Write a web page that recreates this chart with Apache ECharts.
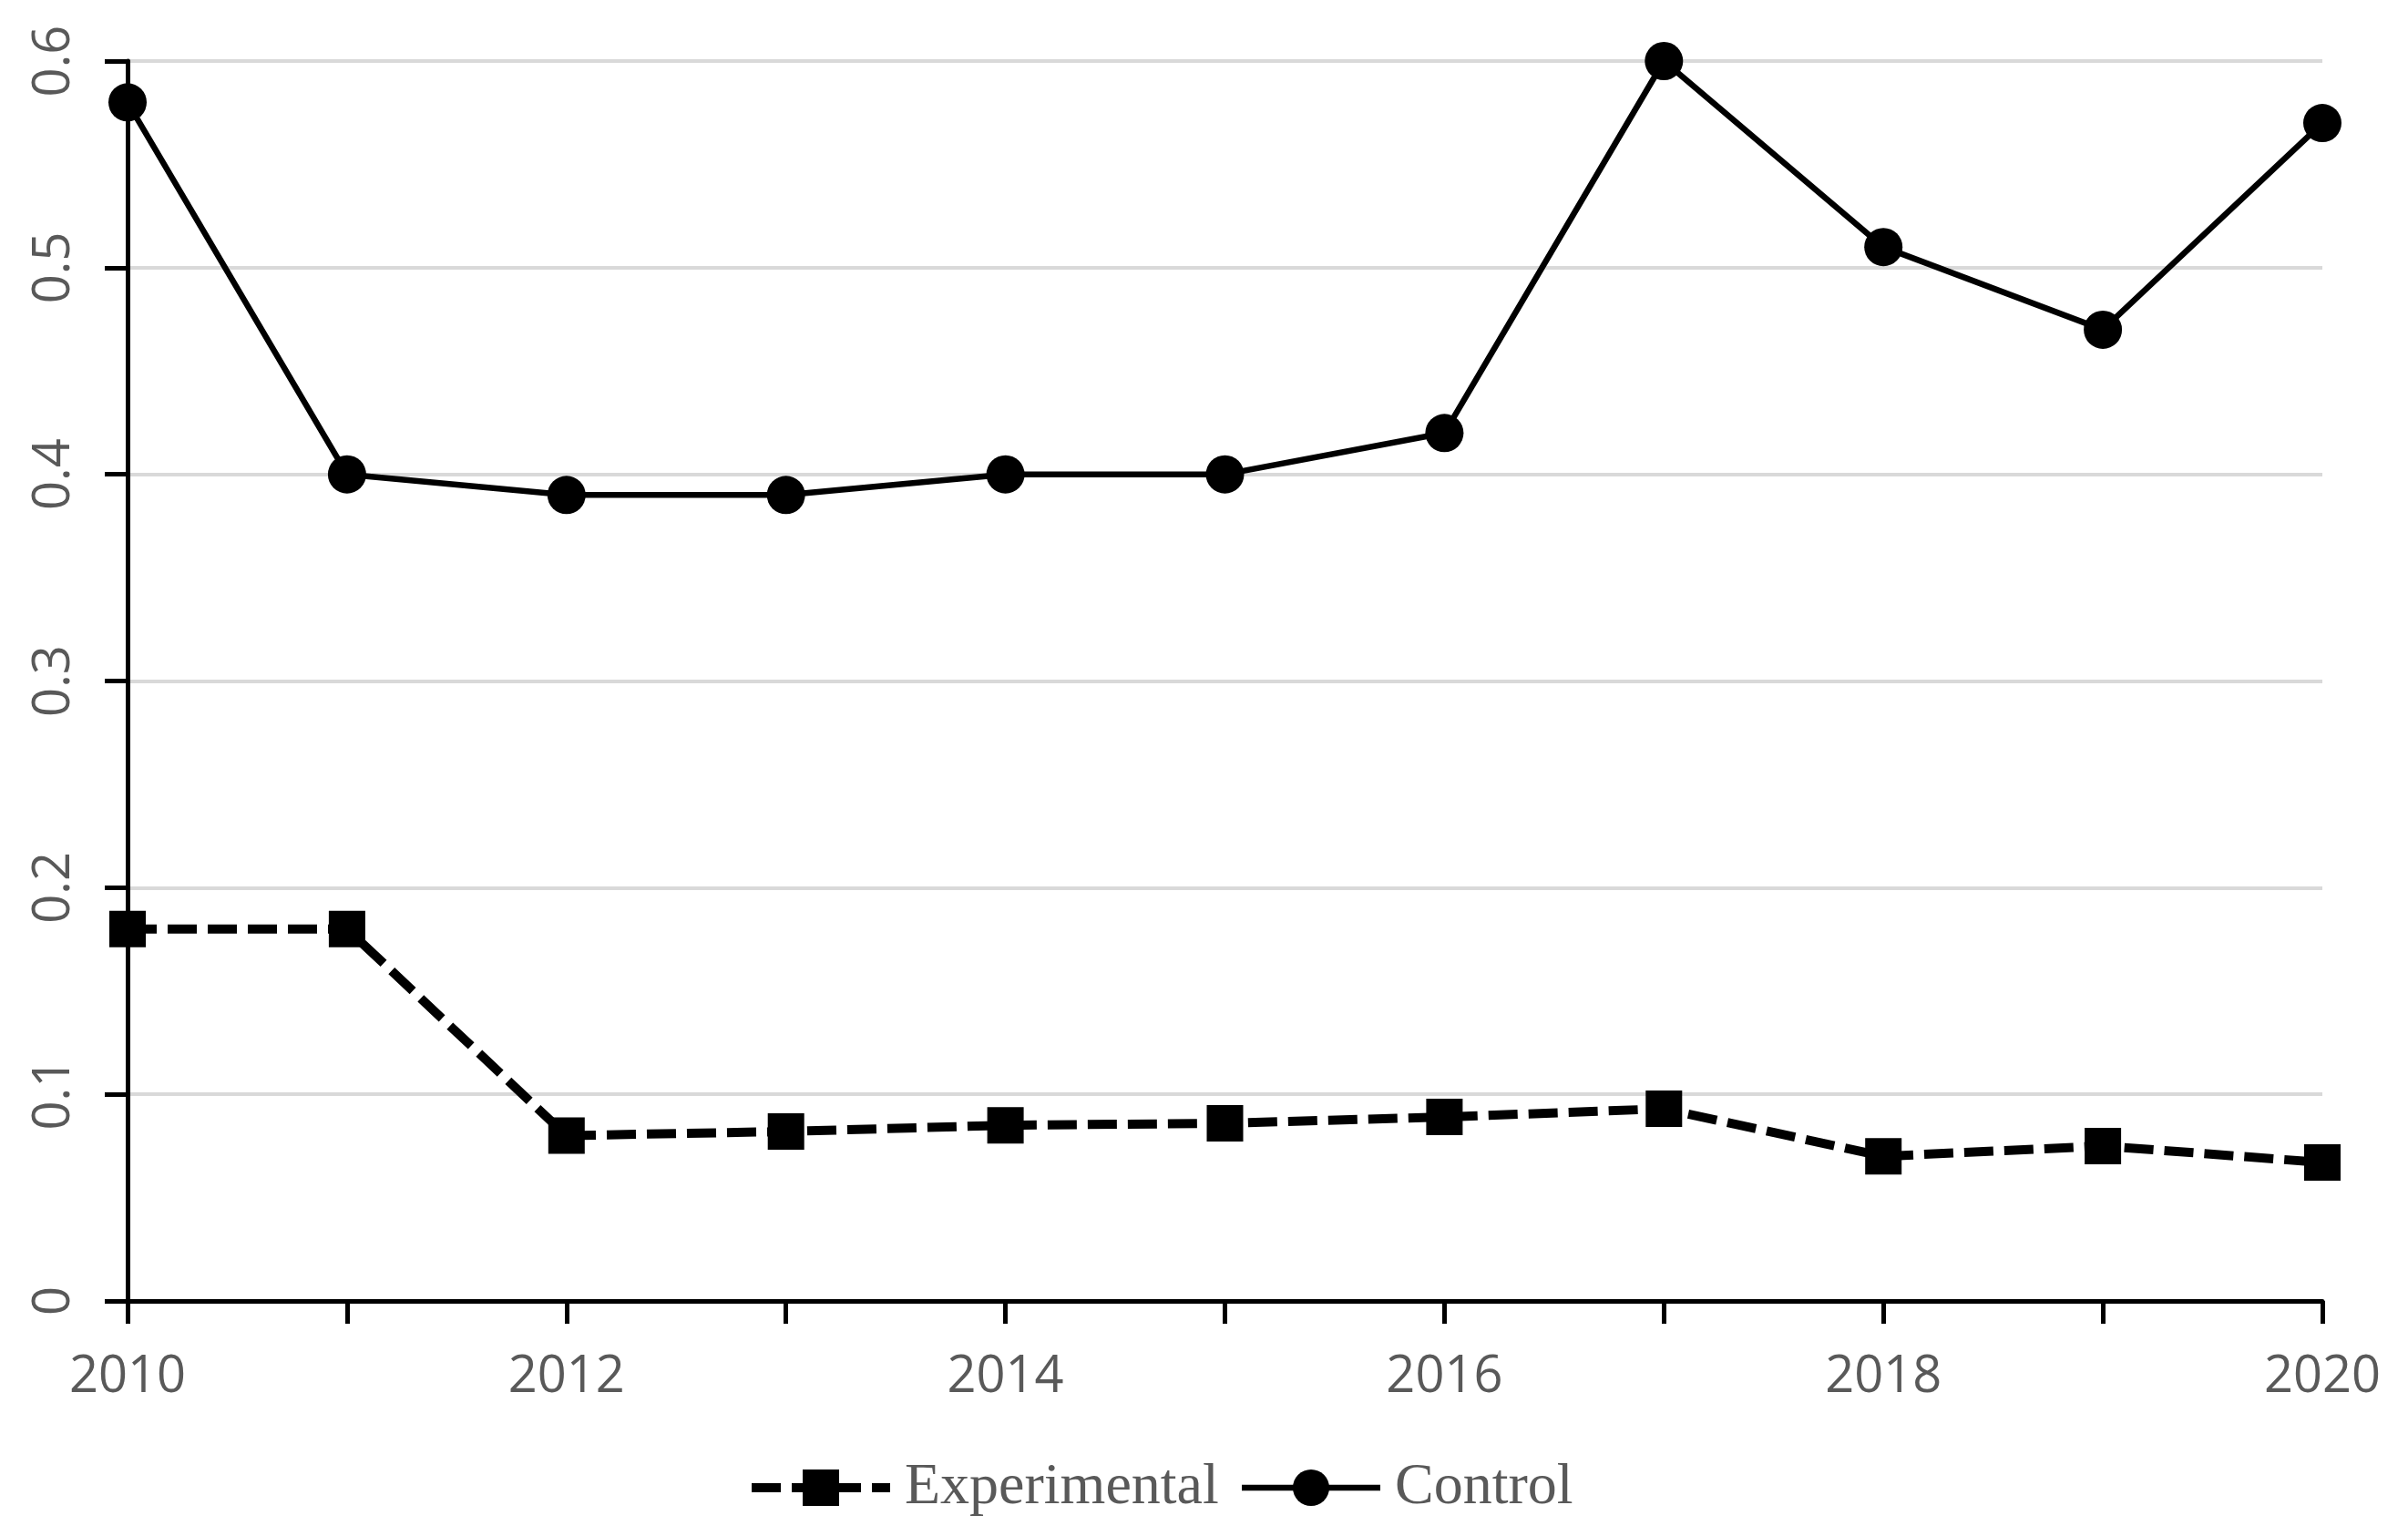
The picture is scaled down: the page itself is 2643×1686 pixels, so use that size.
<!DOCTYPE html>
<html>
<head>
<meta charset="utf-8">
<script src="https://cdn.jsdelivr.net/npm/echarts@6/dist/echarts.min.js"></script>
<style>
html,body{margin:0;padding:0;background:#fff;}
#chart{width:2643px;height:1686px;}
</style>
</head>
<body>
<div id="chart"></div>
<script>
const years = ['2010','2011','2012','2013','2014','2015','2016','2017','2018','2019','2020'];
const experimental = [0.18, 0.18, 0.080, 0.082, 0.085, 0.086, 0.089, 0.093, 0.070, 0.075, 0.067];
const control = [0.58, 0.40, 0.39, 0.39, 0.40, 0.40, 0.42, 0.60, 0.51, 0.47, 0.57];
const yTicks = [0, 0.1, 0.2, 0.3, 0.4, 0.5, 0.6];

const chart = echarts.init(document.getElementById('chart'));
const labelFont = {fontFamily: 'Open Sans', fontSize: 56, color: '#595959'};
const dashPattern = [32, 12];
chart.setOption({
  animation: false,
  backgroundColor: '#fff',
  grid: {left: 140, right: 94, top: 67, bottom: 258, containLabel: false},
  legend: {
    left: 815, top: 1596,
    itemWidth: 152, itemHeight: 50, itemGap: 22,
    textStyle: {fontFamily: 'Liberation Serif', fontSize: 64, color: '#595959', padding: [0, 0, 0, 11]},
    data: [
      {name: 'Experimental', lineStyle: {width: 10, type: dashPattern, color: '#000'}},
      {name: 'Control', lineStyle: {width: 6.5, type: 'solid', color: '#000'}}
    ]
  },
  xAxis: {
    type: 'category',
    data: years,
    boundaryGap: false,
    axisLine: {show: true, lineStyle: {color: '#000', width: 5}},
    axisTick: {show: true, interval: 0, length: 25, lineStyle: {color: '#000', width: 5}},
    axisLabel: Object.assign({interval: 1, margin: 56}, labelFont),
    splitLine: {show: false}
  },
  yAxis: {
    type: 'value',
    min: yTicks[0], max: yTicks[yTicks.length - 1], interval: 0.1,
    axisLine: {show: true, lineStyle: {color: '#000', width: 5}},
    axisTick: {show: true, length: 25, lineStyle: {color: '#000', width: 5}},
    axisLabel: Object.assign({rotate: 90, margin: 52, formatter: v => String(+v.toFixed(1))}, labelFont),
    splitLine: {show: true, lineStyle: {color: '#d9d9d9', width: 4}}
  },
  series: [
    {
      name: 'Experimental', type: 'line', data: experimental,
      symbol: 'rect', symbolSize: 40,
      itemStyle: {color: '#000'},
      lineStyle: {color: '#000', width: 10, type: dashPattern},
      z: 3
    },
    {
      name: 'Control', type: 'line', data: control,
      symbol: 'circle', symbolSize: 42,
      itemStyle: {color: '#000'},
      lineStyle: {color: '#000', width: 6.5, type: 'solid'},
      z: 3
    }
  ]
});
</script>
</body>
</html>
